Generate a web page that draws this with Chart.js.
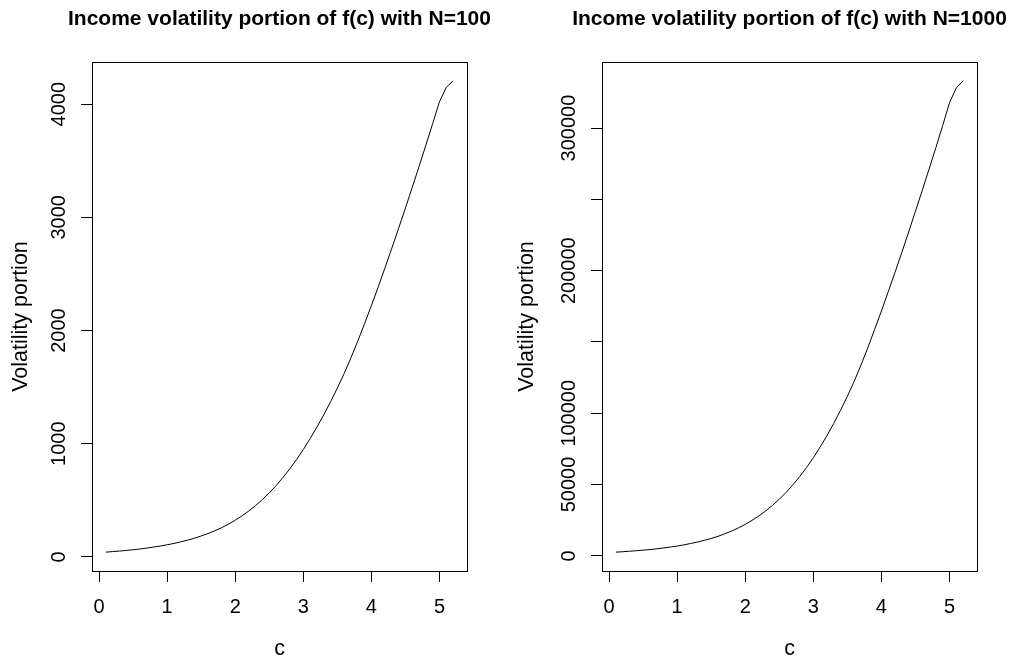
<!DOCTYPE html>
<html>
<head>
<meta charset="utf-8">
<script src="https://cdn.jsdelivr.net/npm/chart.js@4.4.0/dist/chart.umd.min.js"></script>
<style>
  html, body { margin: 0; padding: 0; background: #fff; width: 1013px; height: 659px; overflow: hidden; }
  .panel { position: absolute; top: 0; height: 659px; }
  /* each canvas is wider than its half so the title centres over the plot box */
  #left { left: 0; width: 559px; }
  #right { left: 506px; width: 567px; }
</style>
</head>
<body>
<div class="panel" id="left"><canvas id="vol100"></canvas></div>
<div class="panel" id="right"><canvas id="vol1000"></canvas></div>
<script>
// c grid used for both panels
const cValues = [0.1, 0.2, 0.3, 0.4, 0.5, 0.6, 0.7, 0.8, 0.9, 1.0,
  1.1, 1.2, 1.3, 1.4, 1.5, 1.6, 1.7, 1.8, 1.9, 2.0,
  2.1, 2.2, 2.3, 2.4, 2.5, 2.6, 2.7, 2.8, 2.9, 3.0,
  3.1, 3.2, 3.3, 3.4, 3.5, 3.6, 3.7, 3.8, 3.9, 4.0,
  4.1, 4.2, 4.3, 4.4, 4.5, 4.6, 4.7, 4.8, 4.9, 5.0,
  5.1, 5.2];

// volatility portion, N=100
const vol100 = [42, 47, 52, 57, 63, 70, 78, 87, 96, 107,
  119, 133, 148, 165, 185, 206, 231, 258, 289, 324,
  363, 406, 454, 507, 566, 630, 701, 777, 860, 949,
  1045, 1147, 1255, 1370, 1492, 1621, 1760, 1907, 2061, 2221,
  2386, 2555, 2728, 2904, 3083, 3265, 3450, 3638, 3829, 4022,
  4149, 4206];

// volatility portion, N=1000
const vol1000 = [2600, 2900, 3250, 3600, 4000, 4400, 4950, 5550, 6200, 6900,
  7700, 8700, 9700, 10900, 12200, 13700, 15500, 17400, 19600, 22100,
  24900, 28000, 31500, 35400, 39700, 44500, 49800, 55600, 61900, 68800,
  76300, 84300, 92900, 102100, 111900, 122400, 133800, 145900, 158700, 171700,
  185200, 198800, 212800, 227100, 241700, 256300, 271200, 286300, 301700, 317700,
  328200, 333100];

// axis ticks
const xTicks = [0, 1, 2, 3, 4, 5];
const yTicks100 = [0, 1000, 2000, 3000, 4000];
const yTicks1000 = [0, 50000, 100000, 150000, 200000, 250000, 300000];
// ticks that keep their mark but get no label
const unlabeled1000 = [150000, 250000];

Chart.defaults.font.family = "'Liberation Sans', Arial, Helvetica, sans-serif";
Chart.defaults.font.size = 20;
Chart.defaults.color = '#000';

// R style range: data range plus 4% on both ends
function padRange(vals) {
  const lo = Math.min(...vals), hi = Math.max(...vals);
  const pad = (hi - lo) * 0.04;
  return [lo - pad, hi + pad];
}

// full frame around the plot region
const boxPlugin = {
  id: 'box',
  afterDraw(chart) {
    const {ctx, chartArea: a} = chart;
    ctx.save();
    ctx.strokeStyle = '#000';
    ctx.lineWidth = 1;
    ctx.strokeRect(Math.floor(a.left) + 0.5, Math.floor(a.top) + 0.5,
      Math.round(a.right - a.left), Math.round(a.bottom - a.top));
    ctx.restore();
  }
};

function makeChart(canvasId, title, values, yTicks, hidden, yAxisWidth, rightSpace, yTickPad, yTitlePad) {
  const [xMin, xMax] = padRange(cValues);
  const [yMin, yMax] = padRange(values);
  const points = cValues.map((c, i) => ({x: c, y: values[i]}));

  return new Chart(document.getElementById(canvasId), {
    type: 'line',
    data: {
      datasets: [{
        data: points,
        borderColor: '#000',
        borderWidth: 1,
        pointRadius: 0,
        tension: 0,
        fill: false
      }]
    },
    options: {
      responsive: true,
      maintainAspectRatio: false,
      animation: false,
      layout: { padding: 0 },
      plugins: {
        legend: { display: false },
        tooltip: { enabled: false },
        title: {
          display: true,
          text: title,
          color: '#000',
          font: { size: 21, weight: 'bold' },
          padding: { top: 6.4, bottom: 30.4 }
        }
      },
      scales: {
        x: {
          type: 'linear',
          min: xMin,
          max: xMax,
          afterBuildTicks: s => { s.ticks = xTicks.map(v => ({value: v})); },
          afterFit: s => { s.height = 88; },
          grid: { drawOnChartArea: false, drawTicks: true, tickLength: 11, color: '#000' },
          border: { display: true, color: '#000', width: 1 },
          ticks: {
            autoSkip: false,
            maxRotation: 0,
            padding: 13.5,
            color: '#000',
            callback: v => String(v)
          },
          title: { display: true, text: 'c', color: '#000', font: { size: 21.5 }, padding: { top: 0, bottom: -2.9 } }
        },
        y: {
          type: 'linear',
          min: yMin,
          max: yMax,
          afterBuildTicks: s => { s.ticks = yTicks.map(v => ({value: v})); },
          afterFit: s => { s.width = yAxisWidth; },
          grid: { drawOnChartArea: false, drawTicks: true, tickLength: 11, color: '#000' },
          border: { display: true, color: '#000', width: 1 },
          ticks: {
            autoSkip: false,
            minRotation: 90,
            maxRotation: 90,
            crossAlign: 'center',
            padding: yTickPad,
            color: '#000',
            callback: v => hidden.includes(v) ? '' : String(v)
          },
          title: { display: true, text: 'Volatility portion', color: '#000', font: { size: 21.5 }, padding: { top: yTitlePad, bottom: 0 } }
        },
        // empty right-hand axis, only reserves the margin so the title stays centred over the box
        yRight: {
          type: 'linear',
          position: 'right',
          afterFit: s => { s.width = rightSpace; },
          grid: { display: false },
          border: { display: false },
          ticks: { display: false }
        }
      }
    },
    plugins: [boxPlugin]
  });
}

makeChart('vol100', 'Income volatility portion of f(c) with N=100', vol100, yTicks100, [], 92, 92, -0.7, 8.1);
makeChart('vol1000', 'Income volatility portion of f(c) with N=1000', vol1000, yTicks1000, unlabeled1000, 96, 96, -11.4, 8.1);
</script>
</body>
</html>
